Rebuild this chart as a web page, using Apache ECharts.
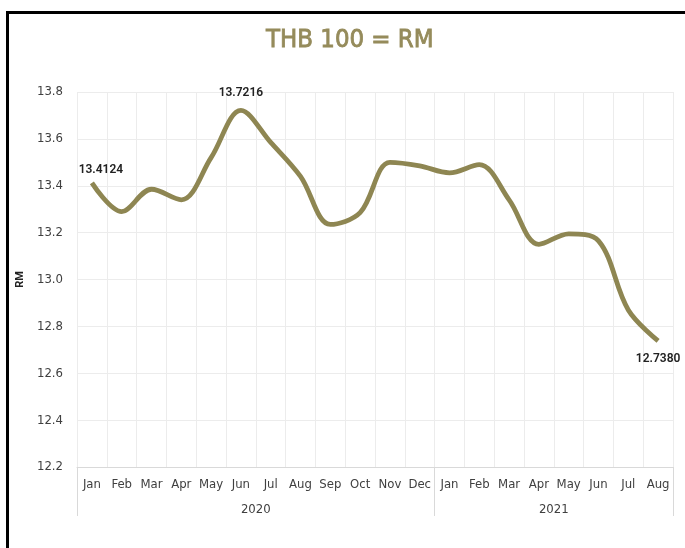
<!DOCTYPE html>
<html>
<head>
<meta charset="utf-8">
<script src="https://cdn.jsdelivr.net/npm/echarts@6/dist/echarts.min.js"></script>
<style>
html,body{margin:0;padding:0;background:#fff;}
#wrap{position:relative;width:685px;height:548px;overflow:hidden;}
#frame{position:absolute;left:6px;top:11px;width:720px;height:600px;border-top:3px solid #000;border-left:3px solid #000;box-sizing:border-box;}
#chart{position:absolute;left:0;top:0;width:685px;height:548px;}
</style>
</head>
<body>
<div id="wrap"><div id="frame"></div><div id="chart"></div></div>
<script>
const months = ['Jan','Feb','Mar','Apr','May','Jun','Jul','Aug','Sep','Oct','Nov','Dec',
                'Jan','Feb','Mar','Apr','May','Jun','Jul','Aug'];
const years = ['2020','2021'];
const yearMonthCounts = [12, 8];
const rates = [13.4124, 13.29, 13.385, 13.34, 13.52, 13.7216, 13.585, 13.44, 13.235, 13.285,
               13.50, 13.485, 13.455, 13.49, 13.34, 13.15, 13.195, 13.165, 12.87, 12.7380];
const yTicks = {min: 12.2, max: 13.8, step: 0.2};

// boundary positions for the year axis
const boundaries = [];
for (let i = 0; i <= months.length; i++) boundaries.push('b' + i);
const yearTickIdx = [0];
const yearLabelIdx = {};
let acc = 0;
yearMonthCounts.forEach((n, k) => {
  yearLabelIdx[acc + n / 2] = years[k];
  acc += n;
  yearTickIdx.push(acc);
});

const labelIdx = {0: 'top', 5: 'top', 19: 'bottom'};
const seriesData = rates.map((v, i) => {
  const d = {value: v, symbolSize: 0.01};
  if (labelIdx[i]) {
    d.label = {show: true, position: labelIdx[i],
               distance: labelIdx[i] === 'top' ? (i === 0 ? 7 : 11) : 12,
               offset: i === 0 ? [9, 0] : [0, 0]};
  }
  return d;
});

const narrow = '"Liberation Sans Narrow", "DejaVu Sans Condensed", Roboto, sans-serif';
const chart = echarts.init(document.getElementById('chart'), null, {renderer: 'canvas'});
chart.setOption({
  backgroundColor: 'transparent',
  animation: false,
  title: {
    text: 'THB 100 = RM', left: 266, top: 27, itemGap: 0, padding: 0,
    textStyle: {color: '#958B5B', fontSize: 25.5, fontWeight: 'normal', fontFamily: narrow,
                textBorderColor: '#958B5B', textBorderWidth: 0.8}
  },
  grid: {left: 77, right: 12, top: 92, bottom: 81, containLabel: false},
  xAxis: [{
    type: 'category', data: months, boundaryGap: true, position: 'bottom',
    axisLine: {show: true, lineStyle: {color: '#d9d9d9', width: 1}},
    axisTick: {show: false},
    axisLabel: {color: '#404040', fontSize: 13, fontFamily: narrow, margin: 11, interval: 0},
    splitLine: {show: true, interval: 0, lineStyle: {color: '#ececec', width: 1}}
  }, {
    type: 'category', data: boundaries, boundaryGap: false, position: 'bottom',
    axisLine: {show: false},
    axisTick: {show: true, length: 49, interval: (i) => yearTickIdx.indexOf(i) >= 0,
               lineStyle: {color: '#d9d9d9', width: 1}},
    axisLabel: {show: true, interval: (i) => yearLabelIdx[i] !== undefined,
                formatter: (v, i) => yearLabelIdx[i] || '',
                color: '#404040', fontSize: 13, fontFamily: narrow, margin: 36},
    splitLine: {show: false}
  }],
  yAxis: {
    type: 'value', min: yTicks.min, max: yTicks.max, interval: yTicks.step,
    name: 'RM', nameLocation: 'middle', nameGap: 47, nameRotate: 90,
    nameTextStyle: {color: '#222', fontSize: 11, fontWeight: 'bold', fontFamily: 'Roboto, sans-serif'},
    axisLine: {show: false}, axisTick: {show: false},
    axisLabel: {color: '#404040', fontSize: 13, fontFamily: narrow, margin: 14,
                formatter: (v) => v.toFixed(1)},
    splitLine: {show: true, lineStyle: {color: '#ececec', width: 1}}
  },
  series: [{
    type: 'line', xAxisIndex: 0, data: seriesData, smooth: 0.35,
    symbol: 'circle', showSymbol: true, symbolSize: 0.01,
    itemStyle: {color: '#8E8652'},
    lineStyle: {color: '#8E8652', width: 4.8, cap: 'butt'},
    label: {show: false, color: '#222', fontSize: 12, fontWeight: 600, fontFamily: 'Roboto, sans-serif',
            formatter: (p) => p.value.toFixed(4)}
  }]
});
</script>
</body>
</html>
